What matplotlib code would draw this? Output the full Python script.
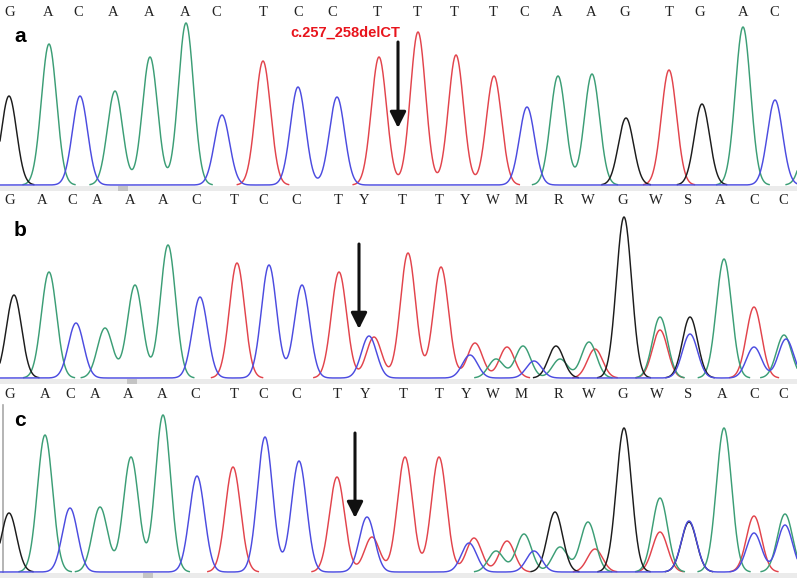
import numpy as np
import matplotlib

matplotlib.use("Agg")
from matplotlib import pyplot as plt
from matplotlib.patches import Rectangle

# base calls and their trace positions (scan units)
calls_a = list("GACAAACTCCTTTTCAAGTGAC")
call_x_a = [10, 48, 78, 113, 149, 185, 216, 263, 298, 332, 377, 417, 454, 493,
            524, 557, 591, 625, 669, 700, 743, 774]
calls_b = list("GACAAACTCCTYTTYWMRWGWSACC")
call_x_b = [10, 42, 72, 97, 130, 163, 196, 234, 263, 296, 338, 364, 402, 439,
            465, 493, 521, 558, 588, 623, 656, 688, 720, 754, 783]
calls_c = list("GACAAACTCCTYTTYWMRWGWSACC")
call_x_c = [10, 45, 70, 95, 128, 162, 195, 234, 263, 296, 337, 365, 403, 439,
            466, 493, 521, 558, 589, 623, 657, 688, 722, 754, 783]

# peaks per dye channel: (position, intensity)
peaks_a = {
    "G": [(9, 89), (626, 67), (702, 81)],
    "A": [(49, 141), (115, 94), (150, 128), (186, 162), (558, 109), (592, 111),
          (743, 158), (810, 60)],
    "T": [(263, 124), (379, 128), (418, 153), (456, 130), (494, 109), (669, 115)],
    "C": [(80, 89), (222, 70), (298, 98), (337, 88), (527, 78), (775, 85)],
}
peaks_b = {
    "G": [(14, 83), (556, 32), (624, 161), (690, 61)],
    "A": [(49, 106), (105, 50), (135, 93), (168, 133), (496, 19), (523, 32),
          (560, 19), (589, 36), (660, 61), (724, 119), (784, 43)],
    "T": [(237, 115), (339, 106), (374, 41), (408, 125), (441, 111), (475, 35),
          (507, 31), (595, 29), (660, 48), (754, 71)],
    "C": [(76, 55), (200, 81), (269, 113), (302, 93), (369, 42), (470, 23),
          (534, 17), (690, 44), (754, 31), (786, 39)],
}
peaks_c = {
    "G": [(9, 59), (555, 60), (624, 144), (689, 50)],
    "A": [(45, 137), (100, 65), (131, 115), (163, 157), (496, 21), (524, 38),
          (560, 25), (588, 50), (660, 74), (724, 144), (785, 58)],
    "T": [(233, 105), (337, 95), (372, 35), (405, 115), (439, 115), (474, 34),
          (507, 31), (595, 23), (660, 40), (754, 56)],
    "C": [(70, 64), (197, 96), (265, 135), (299, 111), (367, 55), (469, 29),
          (534, 21), (689, 51), (754, 39), (785, 47)],
}

colors = {"G": "#1c1c1c", "A": "#3c9e76", "T": "#e2444c", "C": "#4c4ce0"}
order = ["T", "A", "G", "C"]
SIGMA = 7.6
W, H = 797, 579

fig = plt.figure(figsize=(7.97, 5.79), dpi=100)
xs = np.linspace(0, W, 3000)


def trace(peaks):
    y = np.zeros_like(xs)
    for c, h in peaks:
        y += h * np.exp(-((xs - c) ** 2) / (2 * SIGMA ** 2))
    return y


def panel(base_px, peaks, calls, call_x, call_px, label, label_px, arrow,
          marker_x, note=None, left_rule=False):
    top_px = base_px - 168
    ax = fig.add_axes([0, 1 - (base_px + 6) / H, 1, (base_px + 6 - top_px) / H])
    ax.set_xlim(0, W)
    ax.set_ylim(-6, base_px - top_px)
    ax.axis("off")
    ax.axhspan(-6, -1, color="#ebebeb", lw=0)
    ax.add_patch(Rectangle((marker_x, -6), 10, 5, color="#c4c4c4", lw=0))
    if left_rule:
        ax.plot([3, 3], [0, 167], color="#a8a8a8", lw=1.2)
    for ch in order:
        y = trace(peaks[ch])
        if ch != "C":
            # only the blue channel shows along the flat baseline
            y = np.where(y < 0.4, np.nan, y)
        ax.plot(xs, y, color=colors[ch], lw=1.05)
    for b, x in zip(calls, call_x):
        ax.text(x, base_px - call_px, b, ha="center", va="center",
                family="Liberation Serif", fontsize=10.5, color="#222222")
    ax.text(14, base_px - label_px, label, ha="left", va="center",
            family="Liberation Sans", fontweight="bold", fontsize=15)
    ax_x, y0, y1 = arrow
    ax.annotate("", xy=(ax_x, base_px - y1), xytext=(ax_x, base_px - y0),
                arrowprops=dict(arrowstyle="-|>", color="#111111", lw=2.2,
                                mutation_scale=24, shrinkA=0, shrinkB=0))
    if note:
        ax.text(note[1], base_px - note[2], note[0], ha="center", va="center",
                family="Liberation Sans", fontweight="bold", fontsize=10.5,
                color="#e8141c")
    return ax


panel(185, peaks_a, calls_a, call_x_a, 12, "a", 37, (398, 42, 128), 118,
      note=("c.257_258delCT", 345, 33))
panel(378, peaks_b, calls_b, call_x_b, 200, "b", 230, (359, 244, 329), 127)
panel(572, peaks_c, calls_c, call_x_c, 394, "c", 420, (355, 433, 518), 143,
      left_rule=True)

fig.savefig("out.png", dpi=100, facecolor="white")
